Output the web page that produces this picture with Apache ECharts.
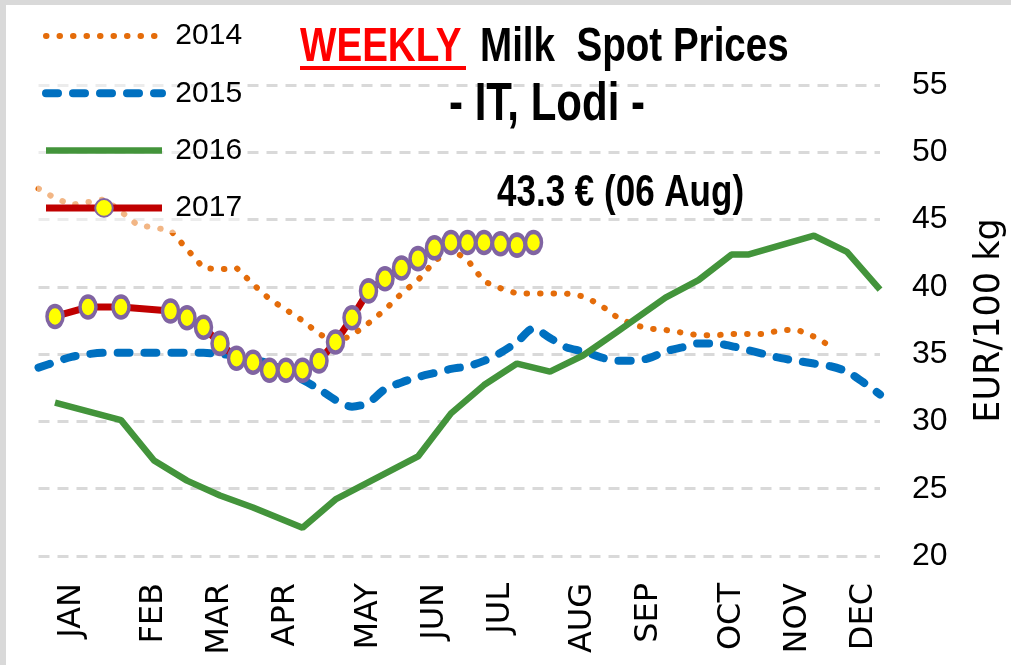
<!DOCTYPE html>
<html>
<head>
<meta charset="utf-8">
<title>Weekly Milk Spot Prices - IT, Lodi</title>
<script src="https://cdn.jsdelivr.net/npm/echarts@6/dist/echarts.min.js"></script>
<style>
html, body { margin: 0; padding: 0; background: #fff; }
#frame { width: 1005px; height: 660px; border-left: 6px solid #d9d9d9; border-top: 5px solid #d9d9d9; }
#chart { width: 1005px; height: 660px; }
</style>
</head>
<body>
<div id="frame"><div id="chart"></div></div>
<script>
// weekly categories, 52 weeks
var weeks = [];
for (var w = 1; w <= 52; w++) weeks.push('W' + w);

// month tick labels and the week they sit on
var monthLabels = ['JAN', 'FEB', 'MAR', 'APR', 'MAY', 'JUN', 'JUL', 'AUG', 'SEP', 'OCT', 'NOV', 'DEC'];
var monthWeeks = [2, 7, 11, 15, 20, 24, 28, 33, 37, 42, 46, 50];

var years = ['2014', '2015', '2016', '2017'];

var y2014 = [47.3, 46.6, 46.1, 46.3, 46.5, 45.6, 44.6, 44.4, 44.2, 42.8,
	41.4, 41.3, 41.4, 40.2, 39.1, 38.3, 37.5, 36.5, 35.9, 36.4,
	37.3, 38.3, 39.5, 40.5, 41.9, 42.8, 42.0, 40.4, 39.9, 39.5,
	39.5, 39.5, 39.5, 39.3, 38.7, 37.8, 37.2, 36.9, 36.8, 36.6,
	36.4, 36.4, 36.5, 36.5, 36.5, 36.8, 36.8, 36.3, 35.6, null,
	null, null];

var y2015 = [34.0, 34.4, 34.8, 35.0, 35.1, 35.1, 35.1, 35.1, 35.1, 35.1,
	35.1, 35.0, 34.9, 34.6, 34.3, 33.7, 33.1, 32.4, 31.6, 31.1,
	31.4, 32.4, 32.9, 33.3, 33.6, 33.9, 34.1, 34.5, 35.1, 35.9,
	36.9, 36.2, 35.5, 35.2, 34.8, 34.5, 34.5, 34.7, 35.2, 35.5,
	35.8, 35.8, 35.6, 35.3, 35.0, 34.7, 34.5, 34.3, 34.1, 33.7,
	32.9, 32.0];

var y2016 = [null, 31.4, null, null, null, 30.1, null, 27.1, null, 25.6,
	null, 24.5, null, 23.6, null, null, 22.1, null, 24.2, null,
	null, null, null, 27.4, null, 30.6, null, 32.7, null, 34.3,
	null, 33.7, null, 34.9, null, 36.6, null, null, 39.2, null,
	40.5, null, 42.4, 42.4, null, 43.1, null, 43.8, null, 42.6,
	null, 39.8];

var y2017 = [null, 37.8, null, 38.5, null, 38.5, null, null, 38.2, 37.7,
	37.0, 35.8, 34.7, 34.4, 33.8, 33.8, 33.8, 34.5, 35.9, 37.7,
	39.7, 40.6, 41.4, 42.1, 42.9, 43.3, 43.3, 43.3, 43.2, 43.1,
	43.3, null, null, null, null, null, null, null, null, null,
	null, null, null, null, null, null, null, null, null, null,
	null, null];

var SANS = '"Liberation Sans", Arial, sans-serif';
var WIDE = '"DejaVu Sans", sans-serif';

var my_chart = echarts.init(document.getElementById('chart'));

// tall bold text, the original picture is stretched vertically
function tallText(txt, x, y, align, size, color)
{
	return {
		type: 'text',
		x: x,
		y: y,
		scaleY: 1.27,
		z: 10,
		style: {
			text: txt,
			x: 0,
			y: 0,
			fill: color,
			font: 'bold ' + size + 'px ' + SANS,
			textAlign: align,
			textVerticalAlign: 'middle'
		}
	};
}

var option = {
	animation: false,
	backgroundColor: '#fff',

	graphic: [
		tallText('WEEKLY', 294, 42.5, 'left', 38.6, '#ff0000'),
		tallText('Milk  Spot Prices', 474, 42.5, 'left', 38.6, '#000'),
		tallText('- IT, Lodi -', 541, 100, 'center', 42, '#000'),
		tallText('43.3 € (06 Aug)', 491, 189, 'left', 35, '#000'),
		{
			type: 'rect',
			left: 294,
			top: 61,
			z: 10,
			shape: { width: 166, height: 4 },
			style: { fill: '#ff0000' }
		}
	],

	legend: {
		orient: 'vertical',
		left: 31,
		top: 6,
		padding: 5,
		itemWidth: 116,
		itemHeight: 22,
		itemGap: 17.3,
		backgroundColor: 'rgba(255,255,255,0.5)',
		data: [
			{ name: years[0], itemStyle: { opacity: 0 } },
			{ name: years[1], itemStyle: { opacity: 0 } },
			{ name: years[2], itemStyle: { opacity: 0 } },
			{ name: years[3] }
		],
		formatter: ' {name}',
		textStyle: { color: '#000', fontFamily: SANS, fontSize: 30, lineHeight: 40 },
		lineStyle: { width: 'inherit' }
	},

	grid: {
		left: 32.5,
		right: 131,
		top: 80,
		bottom: 109,
		containLabel: false,
		outerBoundsMode: 'none'
	},

	xAxis: [{
		type: 'category',
		data: weeks,
		boundaryGap: false,
		axisLine: { show: false },
		axisTick: { show: false },
		axisLabel: {
			rotate: 90,
			margin: 27,
			interval: function (index) { return monthWeeks.indexOf(index) >= 0; },
			formatter: function (value, index) {
				var k = monthWeeks.indexOf(index);
				return k >= 0 ? monthLabels[k] : '';
			},
			color: '#000',
			fontFamily: WIDE,
			fontSize: 32
		},
		splitLine: { show: false }
	}],

	yAxis: [{
		type: 'value',
		position: 'right',
		min: 20,
		max: 55,
		interval: 5,
		name: 'EUR/100 kg',
		nameLocation: 'middle',
		nameRotate: 90,
		nameGap: 92,
		nameTextStyle: { color: '#000', fontFamily: WIDE, fontSize: 35 },
		axisLine: { show: false },
		axisTick: { show: false },
		axisLabel: { margin: 32, color: '#000', fontFamily: SANS, fontSize: 32 },
		splitLine: { lineStyle: { color: '#d9d9d9', width: 3, type: [11, 8] } }
	}],

	series: [{
		name: '2014',
		type: 'line',
		data: y2014,
		symbol: 'none',
		lineStyle: { color: '#e46c0a', width: 6, type: [0.5, 13], cap: 'round' },
		itemStyle: { color: '#e46c0a' },
		z: 2
	}, {
		name: '2015',
		type: 'line',
		data: y2015,
		symbol: 'none',
		smooth: 0.3,
		lineStyle: { color: '#0070c0', width: 8, type: [12, 15], cap: 'round' },
		itemStyle: { color: '#0070c0' },
		z: 3
	}, {
		name: '2016',
		type: 'line',
		data: y2016,
		symbol: 'none',
		connectNulls: true,
		lineStyle: { color: '#43943b', width: 6.5 },
		itemStyle: { color: '#43943b' },
		z: 4
	}, {
		name: '2017',
		type: 'line',
		data: y2017,
		connectNulls: true,
		symbol: 'circle',
		symbolSize: [16, 21],
		showAllSymbol: true,
		lineStyle: { color: '#c00000', width: 7 },
		itemStyle: { color: '#ffff00', borderColor: '#8064a2', borderWidth: 4 },
		z: 5
	}]
};

my_chart.setOption(option);
</script>
</body>
</html>
